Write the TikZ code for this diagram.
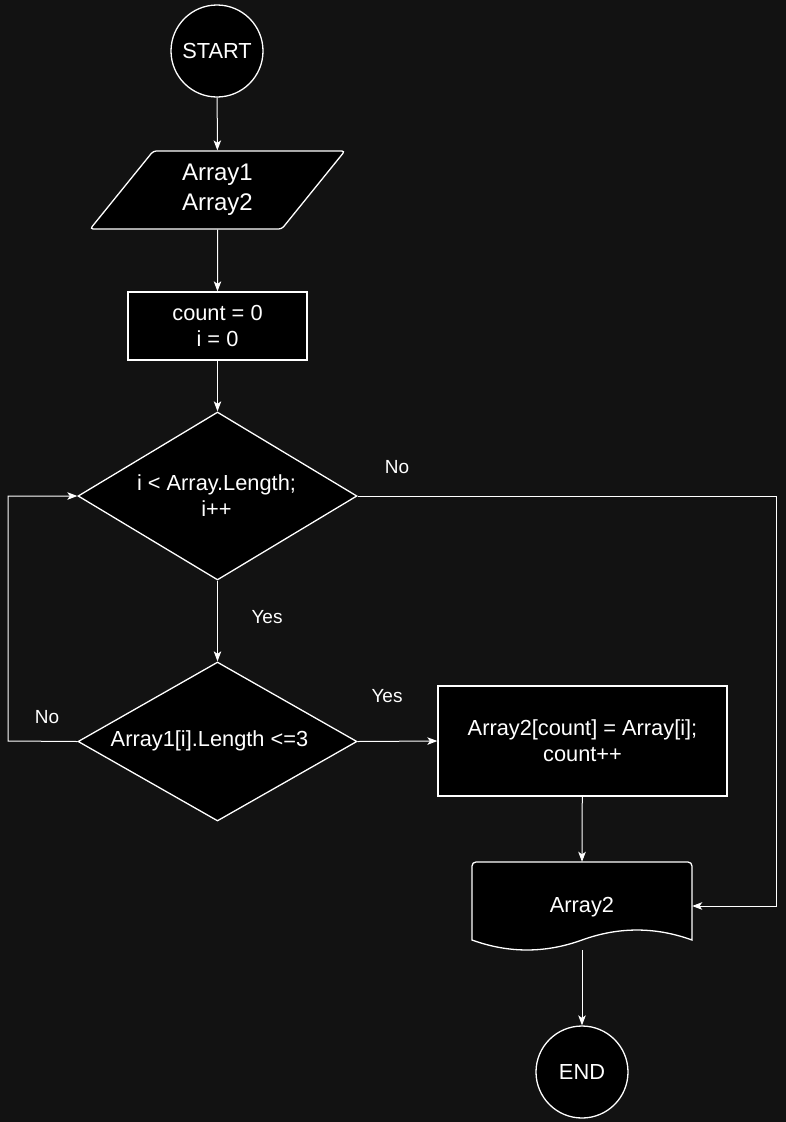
\documentclass[tikz,border=0pt]{standalone}
\usepackage{fontspec}
\setmainfont{Liberation Sans}
\usetikzlibrary{shapes.geometric,arrows.meta}
\definecolor{bg}{HTML}{121212}
\tikzset{
  shapebox/.style={draw=white, fill=black, line width=1.3pt, text=white, inner sep=0pt},
  txt/.style={text=white, align=center, inner sep=0pt, font=\fontsize{21.8}{26}\selectfont},
  lbl/.style={text=white, inner sep=0pt, font=\fontsize{19}{23}\selectfont},
  flow/.style={draw=white, line width=1pt, -{Stealth[length=10pt,width=7.5pt,inset=2.5pt]}},
}
\begin{document}
\begin{tikzpicture}[x=1pt,y=-1pt]
  \fill[bg] (0,0) rectangle (786,1122);
  \useasboundingbox (0,0) rectangle (786,1122);

  % terminals
  \node[shapebox, circle, minimum size=92pt, txt] (start) at (217,51) {START};
  \node[shapebox, circle, minimum size=92pt, txt] (end) at (582,1072) {END};

  % input parallelogram
  \node[shapebox, trapezium, trapezium left angle=56, trapezium right angle=124,
        trapezium stretches=true, minimum width=255pt, minimum height=78pt,
        rounded corners=3pt, txt, font=\fontsize{24}{30}\selectfont] (input) at (217.5,190) {Array1\\Array2};

  % initialisation
  \node[shapebox, rectangle, minimum width=179pt, minimum height=68pt, txt] (init) at (217.5,326) {count = 0\\i = 0};

  % loop condition
  \node[shapebox, diamond, minimum width=279pt, minimum height=168pt] (cond1) at (217.5,496) {};
  \node[txt] (cond1t) at (216.5,496) {i {\textless} Array.Length;\\i++};

  % length check
  \node[shapebox, diamond, minimum width=279pt, minimum height=159pt] (cond2) at (217.5,741.5) {};
  \node[txt] (cond2t) at (209.5,741) {Array1[i].Length {\textless}=3};

  % assignment
  \node[shapebox, rectangle, minimum width=289pt, minimum height=110pt, txt] (assign) at (582.5,741) {Array2[count] = Array[i];\\count++};

  % output document
  \draw[shapebox] (472,940) [rounded corners=4pt] -- (472,862) -- (692,862) [sharp corners] -- (692,940)
     .. controls (655.3,926.7) and (618.7,926.7) .. (582,940)
     .. controls (545.3,953.3) and (508.7,953.3) .. (472,940) -- cycle;
  \node[minimum width=220pt, minimum height=88pt, inner sep=0pt] (out) at (582,906) {};
  \node[txt] (outt) at (582,907) {Array2};

  % routing points
  \coordinate (rA) at (776,496);
  \coordinate (rB) at (776,906);
  \coordinate (lA) at (8,741);
  \coordinate (lB) at (8,496);

  % connectors
  \draw[flow] (start) -- (input);
  \draw[flow] (input) -- (init);
  \draw[flow] (init) -- (cond1);
  \draw[flow] (cond1) -- (cond2);
  \draw[flow] (cond2.east) -- (assign.west);
  \draw[flow] (assign) -- (out.north);
  \draw[flow] (out.south) -- (end);
  \draw[flow] (cond1.east) -- (rA) -- (rB) -- (out.east);
  \draw[flow] (cond2.west) -- (lA) -- (lB) -- (cond1.west);

  % branch labels
  \node[lbl] (l1) at (397,467) {No};
  \node[lbl] (l2) at (267,617) {Yes};
  \node[lbl] (l3) at (387,696) {Yes};
  \node[lbl] (l4) at (47,717) {No};
\end{tikzpicture}
\end{document}
